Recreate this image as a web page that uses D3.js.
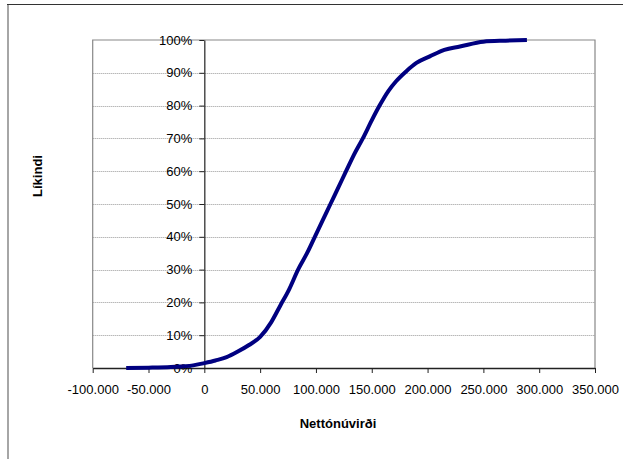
<!DOCTYPE html>
<html><head><meta charset="utf-8">
<script src="https://cdn.jsdelivr.net/npm/d3@7"></script>
<style>body{margin:0;background:#fff}svg{display:block}text{font-family:"Liberation Sans",Arial,sans-serif}</style>
</head><body>
<svg id="c" width="623" height="459"></svg>
<script>
const npvValues = [-70000,-50000,-30000,-10000,0,10000,20000,30000,40000,50000,60000,68000,76000,84000,92000,99000,106000,113000,120000,127000,134000,142000,150000,157000,165000,172000,181000,190000,202000,215000,229000,250000,270000,289000];
const probValues = [0,0.1,0.3,0.8,1.5,2.3,3.3,5,7,9.5,14,19,24,30,35,40,45,50,55,60,65,70,75.5,80,84.5,87.5,90.5,93,95,97,98,99.5,99.8,100];
const xTicks = [-100000,-50000,0,50000,100000,150000,200000,250000,300000,350000];
const yTicks = [0,10,20,30,40,50,60,70,80,90,100];
const xTitle = "Nettónúvirði";
const yTitle = "Líkindi";

const svg = d3.select("#c");
const L=92.7, R=595, T=40, B=368;
const x = d3.scaleLinear().domain([-100000,350000]).range([L,R]);
const y = d3.scaleLinear().domain([0,100]).range([B,T]);
function fx(d){ if(d===0) return "0"; const s=d3.format(",.0f")(Math.abs(d)).replace(/,/g,"."); return (d<0?"-":"")+s; }

// outer frame
svg.append("line").attr("x1",8).attr("x2",8).attr("y1",4).attr("y2",459).attr("stroke","#888").attr("stroke-width",1.5);
svg.append("line").attr("x1",7).attr("x2",623).attr("y1",4.5).attr("y2",4.5).attr("stroke","#333").attr("stroke-width",1);

// gridlines
svg.append("g").selectAll("line").data(yTicks.filter(d=>d>0&&d<100)).join("line")
  .attr("x1",L).attr("x2",R).attr("y1",d=>Math.round(y(d))+0.5).attr("y2",d=>Math.round(y(d))+0.5)
  .attr("stroke","#999").attr("stroke-dasharray","1,1");

// plot border
svg.append("path").attr("d",`M${L},${B}V${T}H${R}V${B}`).attr("fill","none").attr("stroke","#888").attr("stroke-width",1.2);

// x axis
const xa = svg.append("g").attr("transform",`translate(0,${B})`)
  .call(d3.axisBottom(x).tickValues(xTicks).tickFormat(fx).tickSize(5).tickSizeOuter(0));
xa.select(".domain").attr("stroke","#222").attr("stroke-width",1.5);
xa.selectAll(".tick line").attr("stroke","#222");
xa.selectAll("text").attr("font-size",13).attr("fill","#000").attr("y",17);

// y axis at x=0
const ya = svg.append("g").attr("transform",`translate(${x(0)},0)`)
  .call(d3.axisLeft(y).tickValues(yTicks).tickFormat(d=>d+"%").tickSize(5).tickSizeOuter(0));
ya.select(".domain").attr("stroke","#222").attr("stroke-width",1.2);
ya.selectAll(".tick line").attr("stroke","#222");
ya.selectAll("text").attr("font-size",13).attr("fill","#000").attr("x",-12);

// curve
const pts = npvValues.map((v,i)=>[v,probValues[i]]);
svg.append("path").datum(pts).attr("fill","none").attr("stroke","#000080").attr("stroke-width",4)
  .attr("stroke-linejoin","round").attr("d",d3.line().curve(d3.curveMonotoneX).x(d=>x(d[0])).y(d=>y(d[1])));

// titles
svg.append("text").attr("x",338).attr("y",428).attr("text-anchor","middle").attr("font-size",13).attr("font-weight","bold").text(xTitle);
svg.append("text").attr("transform","translate(42,176) rotate(-90)").attr("text-anchor","middle").attr("font-size",13).attr("font-weight","bold").text(yTitle);
</script>
</body></html>
